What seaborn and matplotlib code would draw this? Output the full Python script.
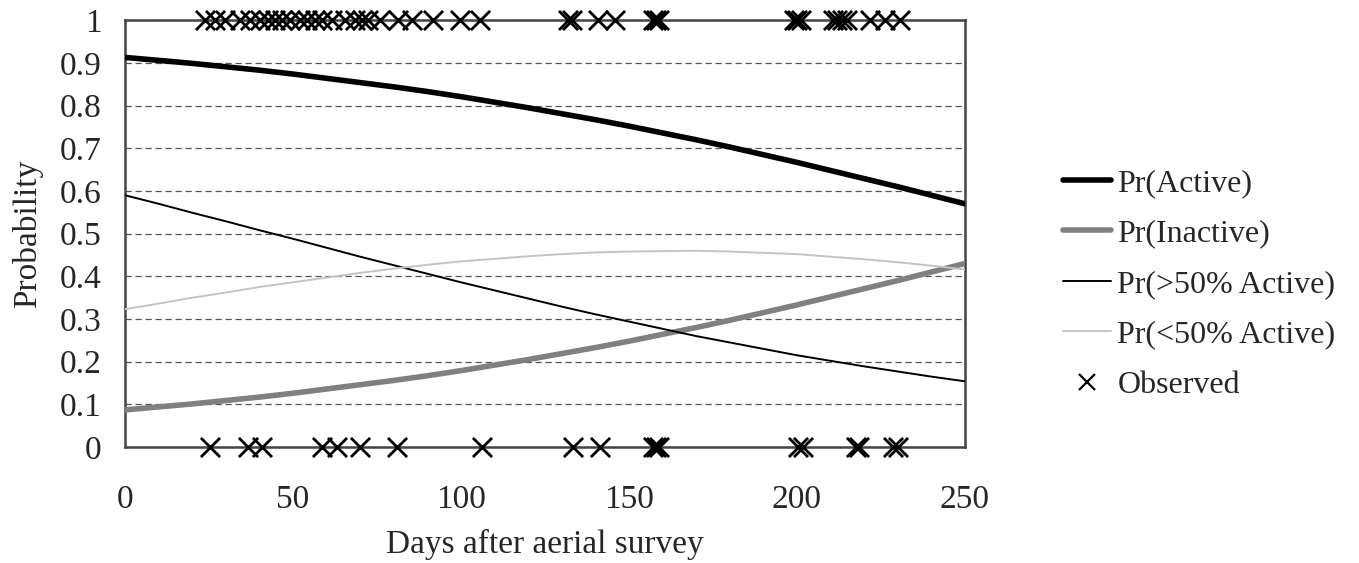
import matplotlib
matplotlib.use("Agg")
import matplotlib.pyplot as plt
import seaborn as sns
import pandas as pd
from matplotlib.lines import Line2D

# ---- data ----
days = [0, 10, 20, 30, 40, 50, 60, 70, 80, 90, 100, 110, 120, 130, 140, 150,
        160, 170, 180, 190, 200, 210, 220, 230, 240, 250]
pr_active = [0.913, 0.906, 0.899, 0.891, 0.883, 0.874, 0.864, 0.854, 0.844, 0.833,
             0.821, 0.808, 0.795, 0.781, 0.767, 0.752, 0.736, 0.720, 0.703, 0.685,
             0.667, 0.648, 0.629, 0.610, 0.590, 0.570]
pr_inactive = [0.087, 0.094, 0.101, 0.109, 0.117, 0.126, 0.136, 0.146, 0.156, 0.167,
               0.179, 0.192, 0.205, 0.219, 0.233, 0.248, 0.264, 0.280, 0.297, 0.315,
               0.333, 0.352, 0.371, 0.390, 0.410, 0.430]
pr_gt50 = [0.590, 0.570, 0.549, 0.529, 0.508, 0.488, 0.467, 0.446, 0.426, 0.406,
           0.386, 0.367, 0.348, 0.329, 0.311, 0.294, 0.277, 0.260, 0.245, 0.230,
           0.215, 0.202, 0.189, 0.177, 0.165, 0.154]
pr_lt50 = [0.323, 0.336, 0.350, 0.362, 0.375, 0.386, 0.397, 0.408, 0.418, 0.427,
           0.435, 0.441, 0.447, 0.452, 0.456, 0.458, 0.459, 0.460, 0.458, 0.455,
           0.452, 0.446, 0.440, 0.433, 0.425, 0.416]

obs_active_days = [23.8, 26.8, 29.8, 34.2, 37.2, 40.2, 42.6, 44.6, 46.7, 49.1, 52.1,
                   54.2, 56.5, 58.6, 61.6, 65.5, 68.5, 70.5, 72.3, 75.9, 81.3, 85.4,
                   91.7, 99.7, 105.7, 131.8, 133.0, 140.8, 145.8, 157.1, 158.0, 158.9,
                   199.1, 200.0, 201.2, 210.7, 211.9, 213.4, 214.9, 221.7, 226.2, 230.7]
obs_inactive_days = [25.3, 36.6, 40.8, 58.6, 63.1, 69.9, 81.0, 106.3, 133.3, 141.4,
                     157.2, 158.0, 158.8, 200.3, 201.8, 217.5, 218.5, 228.6, 230.1]

series_names = ["Pr(Active)", "Pr(Inactive)", "Pr(>50% Active)", "Pr(<50% Active)"]
series_values = [pr_active, pr_inactive, pr_gt50, pr_lt50]
series_colors = ["#000000", "#808080", "#000000", "#c4c4c4"]
series_widths = [4.0, 4.0, 1.4, 1.4]

sns.set_style("white")
plt.rcParams["font.family"] = ["Liberation Serif", "DejaVu Serif"]

fig = plt.figure(figsize=(13.59, 5.63), dpi=100)
ax = fig.add_axes([0.092, 0.206, 0.618, 0.758])

for name, vals, col, lw in zip(series_names, series_values, series_colors, series_widths):
    df = pd.DataFrame({"day": days, "p": vals})
    sns.lineplot(data=df, x="day", y="p", color=col, linewidth=lw, ax=ax,
                 solid_capstyle="round", zorder=3)

obs = pd.DataFrame({
    "day": obs_active_days + obs_inactive_days,
    "y": [1] * len(obs_active_days) + [0] * len(obs_inactive_days),
})
sns.scatterplot(data=obs, x="day", y="y", marker="x", s=190, color="black",
                linewidth=2.0, ax=ax, clip_on=False, zorder=5)

ax.set_xlim(0, 250)
ax.set_ylim(0, 1)
ax.set_xticks([0, 50, 100, 150, 200, 250])
ax.set_yticks([0, 0.1, 0.2, 0.3, 0.4, 0.5, 0.6, 0.7, 0.8, 0.9, 1])
ax.set_yticklabels(["0", "0.1", "0.2", "0.3", "0.4", "0.5", "0.6", "0.7", "0.8", "0.9", "1"])
ax.tick_params(axis="both", labelsize=24, length=0)
ax.tick_params(axis="y", pad=17)
ax.tick_params(axis="x", pad=27)
ax.yaxis.grid(True, linestyle=(0, (5, 3)), color="#555555", linewidth=0.9)
ax.xaxis.grid(False)
for s in ax.spines.values():
    s.set_color("#444444")
    s.set_linewidth(1.8)

ax.set_xlabel("Days after aerial survey", fontsize=24, labelpad=10)
ax.set_ylabel("Probability", fontsize=24, labelpad=12)

handles = [Line2D([0], [0], color=c, linewidth=w, solid_capstyle="round")
           for c, w in zip(series_colors, series_widths)]
handles.append(Line2D([0], [0], color="black", marker="x", linestyle="none",
                      markersize=12, markeredgewidth=1.6))
leg = fig.legend(handles, series_names + ["Observed"], loc="center left",
                 bbox_to_anchor=(0.761, 0.495), frameon=False, fontsize=23,
                 handlelength=1.5, handletextpad=0.2, labelspacing=0.66)

fig.savefig("out.png", dpi=100)
